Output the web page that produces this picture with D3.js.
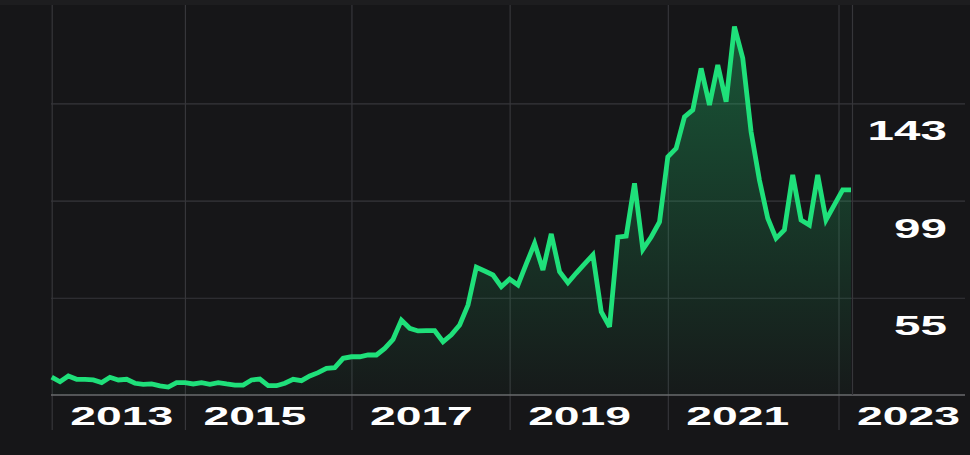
<!DOCTYPE html>
<html>
<head>
<meta charset="utf-8">
<style>
  html, body { margin: 0; padding: 0; background: #161618; }
  svg { display: block; }
  .label {
    font-family: "Liberation Sans", Arial, sans-serif;
    font-weight: bold;
    fill: #ffffff;
  }
</style>
</head>
<body>
<svg id="chart" width="970" height="455"></svg>
<script src="https://cdn.jsdelivr.net/npm/d3@7"></script>
<script>
// price points, oldest first
const prices = [
  19.1, 17.0, 19.6, 18.1, 18.1, 17.8, 16.6, 19.0, 17.8, 18.1,
  16.3, 15.8, 16.0, 15.1, 14.6, 16.6, 16.6, 16.0, 16.6, 15.8,
  16.6, 16.0, 15.5, 15.5, 17.8, 18.2, 15.2, 15.2, 16.3, 18.1,
  17.5, 19.6, 21.1, 23.1, 23.4, 27.6, 28.3, 28.3, 29.1, 29.1,
  32.1, 36.2, 44.9, 41.2, 40.0, 40.1, 40.1, 35.1, 38.2, 42.7,
  51.7, 68.8, 67.1, 65.3, 60.0, 63.5, 60.8, 70.3, 79.6, 67.6,
  83.9, 66.8, 61.8, 66.2, 70.3, 74.4, 48.7, 41.9, 82.4, 82.9,
  106.8, 76.9, 82.5, 89.3, 118.8, 122.6, 136.9, 140.0, 158.8, 142.2,
  160.3, 143.7, 177.7, 163.4, 130.1, 108.3, 91.0, 81.9, 85.7, 110.6,
  90.2, 87.9, 110.6, 90.2, 97.0, 103.8, 103.8
];

const yearLabels = ["2013", "2015", "2017", "2019", "2021", "2023"];
// where each year gridline falls, as a position in the price list
const yearIndex = [0, 16, 36, 55, 74, 94.5];
const priceTicks = [55, 99, 143];
const baseValue = 11;

const width = 970;
const height = 455;

const svg = d3.select("#chart");

const x = d3.scaleLinear()
  .domain([0, prices.length - 1])
  .range([51.7, 851]);
const y = d3.scaleLinear()
  .domain([baseValue, d3.max(priceTicks)])
  .range([395, 103.3]);

// faint frame strip along the top
svg.append("rect")
  .attr("width", width)
  .attr("height", 5)
  .attr("fill", "#1d1d1f");

const defs = svg.append("defs");
const grad = defs.append("linearGradient")
  .attr("id", "fade")
  .attr("gradientUnits", "userSpaceOnUse")
  .attr("x1", 0).attr("x2", 0)
  .attr("y1", y(d3.max(prices)))
  .attr("y2", y(baseValue));
grad.append("stop").attr("offset", 0).attr("stop-color", "#1fe07a").attr("stop-opacity", 0.32);
grad.append("stop").attr("offset", 1).attr("stop-color", "#1fe07a").attr("stop-opacity", 0.02);

// vertical year grid + labels
const xAxis = d3.axisBottom(x)
  .tickValues(yearIndex)
  .tickSize(-(430 - 5))
  .tickFormat((d, i) => yearLabels[i]);

svg.append("g")
  .attr("class", "x-axis")
  .attr("transform", "translate(0, 430)")
  .call(xAxis)
  .call((g) => {
    g.select(".domain").remove();
    g.selectAll(".tick line").attr("stroke", "#36363a").attr("stroke-width", 1.2);
    g.selectAll(".tick text")
      .attr("class", "label")
      .attr("font-size", 26)
      .attr("text-anchor", "start")
      .attr("x", null).attr("y", null).attr("dy", null)
      .attr("transform", "translate(18, -5) scale(1.78, 1)");
  });

// horizontal price grid + labels
const yAxis = d3.axisRight(y)
  .tickValues(priceTicks)
  .tickSize(965 - 51);

svg.append("g")
  .attr("class", "y-axis")
  .attr("transform", "translate(51, 0)")
  .call(yAxis)
  .call((g) => {
    g.select(".domain").remove();
    g.selectAll(".tick line").attr("stroke", "#36363a").attr("stroke-width", 1.2);
    g.selectAll(".tick text")
      .attr("class", "label")
      .attr("font-size", 28)
      .attr("text-anchor", "end")
      .attr("x", null).attr("dy", null)
      .attr("transform", `translate(${947 - 51}, 36.5) scale(1.7, 1)`);
  });

// base line
svg.append("line")
  .attr("x1", 51).attr("x2", 965)
  .attr("y1", y(baseValue)).attr("y2", y(baseValue))
  .attr("stroke", "#6a6a6d")
  .attr("stroke-width", 1.3);

// marker at the latest point
svg.append("line")
  .attr("x1", x(prices.length - 1) + 1.5).attr("x2", x(prices.length - 1) + 1.5)
  .attr("y1", 5).attr("y2", y(baseValue))
  .attr("stroke", "#36363a")
  .attr("stroke-width", 1.2);

const area = d3.area()
  .x((d, i) => x(i))
  .y0(y(baseValue))
  .y1((d) => y(d));

const line = d3.line()
  .x((d, i) => x(i))
  .y((d) => y(d));

svg.append("path")
  .datum(prices)
  .attr("d", area)
  .attr("fill", "url(#fade)");

svg.append("path")
  .datum(prices)
  .attr("d", line)
  .attr("fill", "none")
  .attr("stroke", "#1fe07a")
  .attr("stroke-width", 4.8)
  .attr("stroke-linejoin", "miter")
  .attr("stroke-miterlimit", 3)
  .attr("stroke-linecap", "butt");
</script>
</body>
</html>
